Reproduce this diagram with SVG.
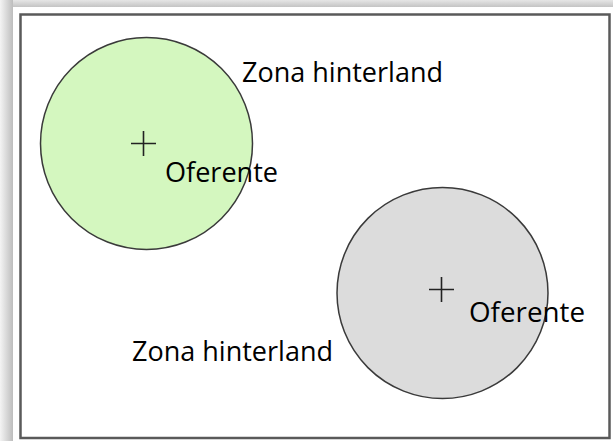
<svg xmlns="http://www.w3.org/2000/svg" width="613" height="441" viewBox="0 0 613 441">
  <defs>
    <linearGradient id="shL" x1="0" y1="0" x2="1" y2="0">
      <stop offset="0" stop-color="#f4f4f4"/>
      <stop offset="1" stop-color="#bdbdbd"/>
    </linearGradient>
    <linearGradient id="shT" x1="0" y1="0" x2="0" y2="1">
      <stop offset="0" stop-color="#e6e6e6"/>
      <stop offset="1" stop-color="#c4c4c4"/>
    </linearGradient>
    <style>
      .lbl { font-family: "Open Sans", "Liberation Sans", sans-serif; font-size: 27px; fill: #000; }
      .zone { stroke: #3a3a3a; stroke-width: 1.5; }
      .cross { stroke: #222; stroke-width: 1.6; fill: none; }
    </style>
  </defs>
  <rect x="0" y="0" width="613" height="441" fill="#ffffff"/>
  <!-- frame shadow -->
  <rect x="0" y="0" width="613" height="7" fill="url(#shT)"/>
  <rect x="0" y="0" width="13" height="441" fill="url(#shL)"/>
  <rect x="13" y="7" width="600" height="434" fill="#ffffff"/>
  <rect x="20.5" y="14.5" width="589" height="423.5" fill="#ffffff" stroke="#5a5a5a" stroke-width="2.5"/>

  <g id="zona1">
    <circle class="zone" cx="146.5" cy="143.5" r="106" fill="#d4f7bf"/>
    <path class="cross" d="M131 143.5H156M143.5 131V156"/>
  </g>
  <g id="zona2">
    <circle class="zone" cx="442.5" cy="293" r="105.5" fill="#dcdcdc"/>
    <path class="cross" d="M429 289.5H454M441.5 277V302"/>
  </g>
  <g id="labels">
    <text class="lbl" x="242" y="82" textLength="201" lengthAdjust="spacingAndGlyphs">Zona hinterland</text>
    <text class="lbl" x="165" y="182" textLength="113" lengthAdjust="spacingAndGlyphs">Oferente</text>
    <text class="lbl" x="469" y="322" textLength="116" lengthAdjust="spacingAndGlyphs">Oferente</text>
    <text class="lbl" x="132" y="361" textLength="201" lengthAdjust="spacingAndGlyphs">Zona hinterland</text>
  </g>
  <g id="connectors"/>
</svg>
